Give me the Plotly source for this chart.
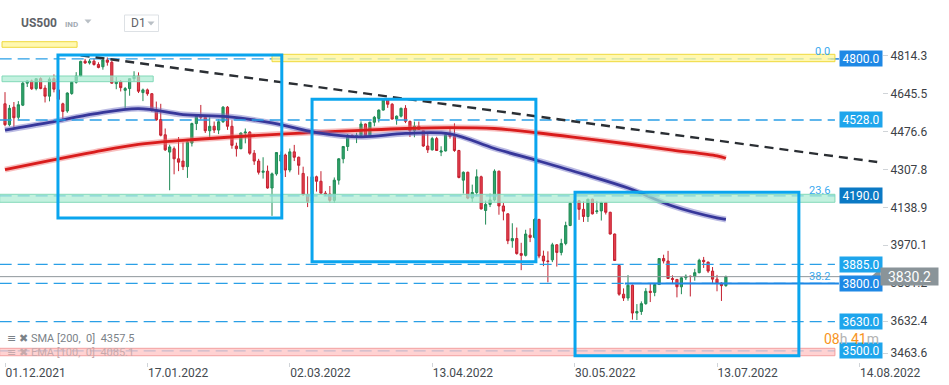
import plotly.graph_objects as go

# ---------------- data ----------------
opens = [4600, 4507, 4585, 4540, 4594, 4692, 4702, 4668, 4712, 4670,
         4634, 4712, 4662, 4600, 4568, 4646, 4696, 4724, 4790, 4782,
         4790, 4775, 4765, 4795, 4785, 4690, 4698, 4660, 4668, 4712,
         4724, 4650, 4662, 4645, 4572, 4530, 4462, 4385, 4400, 4355,
         4345, 4320, 4425, 4512, 4545, 4540, 4480, 4500, 4483, 4520,
         4585, 4500, 4412, 4400, 4470, 4474, 4380, 4345, 4295, 4300,
         4225, 4288, 4345, 4372, 4305, 4386, 4362, 4290, 4195, 4165,
         4275, 4255, 4202, 4198, 4170, 4260, 4355, 4410, 4460, 4452,
         4458, 4510, 4457, 4518, 4535, 4572, 4618, 4598, 4532, 4545,
         4580, 4522, 4480, 4500, 4480, 4412, 4395, 4445, 4385, 4390,
         4462, 4455, 4392, 4260, 4295, 4180, 4205, 4275, 4125, 4152,
         4172, 4300, 4145, 4110, 3990, 4000, 3933, 3925, 4015, 4005,
         4085, 3922, 3900, 3905, 3972, 3938, 3978, 4058, 4160, 4168,
         4130, 4098, 4175, 4120, 4123, 4160, 4117, 4020, 3880, 3752,
         3735, 3792, 3668, 3675, 3710, 3765, 3760, 3795, 3911, 3900,
         3822, 3818, 3785, 3825, 3832, 3831, 3848, 3903, 3895, 3855,
         3819, 3801, 3790]
highs = [4652, 4595, 4608, 4612, 4700, 4705, 4708, 4713, 4718, 4683,
         4718, 4731, 4667, 4605, 4651, 4700, 4741, 4792, 4800, 4799,
         4802, 4785, 4798, 4806, 4792, 4720, 4706, 4675, 4714, 4745,
         4740, 4668, 4668, 4648, 4610, 4600, 4490, 4418, 4410, 4452,
         4428, 4432, 4516, 4550, 4595, 4545, 4540, 4521, 4531, 4590,
         4590, 4527, 4427, 4472, 4490, 4478, 4394, 4355, 4362, 4325,
         4294, 4385, 4388, 4378, 4401, 4417, 4365, 4320, 4277, 4299,
         4280, 4300, 4212, 4234, 4272, 4358, 4412, 4465, 4463, 4471,
         4522, 4512, 4520, 4546, 4575, 4625, 4622, 4603, 4548, 4583,
         4594, 4525, 4521, 4521, 4482, 4471, 4453, 4453, 4411, 4471,
         4489, 4513, 4395, 4299, 4298, 4240, 4308, 4280, 4169, 4200,
         4308, 4302, 4158, 4112, 4068, 4049, 3981, 4039, 4046, 4090,
         4088, 3946, 3943, 3981, 3975, 3999, 4075, 4160, 4178, 4172,
         4166, 4177, 4178, 4168, 4164, 4162, 4119, 4022, 3885, 3778,
         3837, 3795, 3708, 3720, 3779, 3801, 3802, 3913, 3928, 3945,
         3836, 3818, 3829, 3840, 3835, 3865, 3910, 3918, 3897, 3873,
         3838, 3805, 3835]
lows = [4500, 4500, 4495, 4530, 4590, 4675, 4662, 4660, 4665, 4606,
        4611, 4651, 4600, 4531, 4560, 4640, 4690, 4720, 4778, 4775,
        4770, 4758, 4752, 4770, 4690, 4665, 4655, 4575, 4636, 4700,
        4648, 4612, 4636, 4565, 4525, 4455, 4390, 4215, 4286, 4300,
        4305, 4270, 4410, 4483, 4530, 4470, 4450, 4470, 4465, 4515,
        4484, 4400, 4365, 4398, 4424, 4373, 4328, 4285, 4267, 4222,
        4101, 4280, 4290, 4274, 4295, 4345, 4284, 4190, 4140, 4160,
        4209, 4200, 4190, 4161, 4160, 4240, 4335, 4390, 4448, 4425,
        4455, 4455, 4450, 4500, 4517, 4570, 4582, 4530, 4507, 4539,
        4514, 4452, 4451, 4485, 4408, 4381, 4392, 4390, 4367, 4388,
        4445, 4386, 4268, 4200, 4175, 4163, 4188, 4129, 4062, 4140,
        4165, 4106, 4081, 3975, 3959, 3928, 3859, 3920, 3984, 4000,
        3912, 3877, 3805, 3895, 3875, 3925, 3970, 4055, 4152, 4083,
        4074, 4074, 4107, 4110, 4080, 4107, 4018, 3900, 3745, 3722,
        3723, 3639, 3637, 3660, 3705, 3717, 3743, 3795, 3889, 3820,
        3799, 3738, 3752, 3815, 3742, 3812, 3845, 3869, 3847, 3802,
        3765, 3722, 3785]
closes = [4507, 4580, 4538, 4596, 4692, 4702, 4667, 4712, 4668, 4634,
          4710, 4665, 4620, 4566, 4648, 4696, 4724, 4789, 4782, 4790,
          4775, 4762, 4795, 4785, 4692, 4698, 4672, 4668, 4712, 4724,
          4656, 4662, 4645, 4570, 4528, 4460, 4395, 4408, 4355, 4340,
          4320, 4430, 4512, 4545, 4540, 4480, 4500, 4483, 4520, 4585,
          4500, 4415, 4400, 4470, 4474, 4380, 4345, 4295, 4300, 4225,
          4288, 4383, 4372, 4305, 4386, 4362, 4326, 4195, 4165, 4275,
          4255, 4202, 4198, 4170, 4260, 4355, 4410, 4460, 4452, 4458,
          4510, 4457, 4518, 4540, 4572, 4618, 4598, 4532, 4545, 4580,
          4522, 4480, 4500, 4486, 4412, 4395, 4445, 4392, 4390, 4462,
          4455, 4392, 4272, 4295, 4180, 4205, 4275, 4132, 4152, 4172,
          4300, 4145, 4122, 3990, 4000, 3933, 3925, 4020, 4005, 4085,
          3922, 3900, 3898, 3972, 3938, 3978, 4058, 4157, 4168, 4130,
          4098, 4175, 4110, 4123, 4160, 4117, 4020, 3902, 3752, 3735,
          3792, 3668, 3675, 3710, 3765, 3760, 3795, 3911, 3900, 3822,
          3818, 3785, 3825, 3832, 3831, 3848, 3903, 3897, 3855, 3819,
          3801, 3790, 3830.2]

# moving averages read at selected bars
ma_bars = [0, 10, 20, 30, 40, 50, 60, 70, 80, 90, 100, 110, 120, 130, 140, 150, 160, 162]
sma200 = [4307, 4347, 4385, 4419, 4437, 4451, 4463, 4473, 4482, 4490,
          4494, 4490, 4470, 4446, 4421, 4394, 4368, 4357.5]
ema100 = [4483, 4517, 4555, 4579, 4552, 4543, 4515, 4472, 4453, 4468,
          4466, 4401, 4345, 4287, 4225, 4145, 4092, 4085.1]

# x-axis labels (every 32 bars)
tick_bars = [0, 32, 64, 96, 128, 160, 192]
tick_labels = ["01.12.2021", "17.01.2022", "02.03.2022", "13.04.2022",
               "30.05.2022", "13.07.2022", "14.08.2022"]

# price scale labels
price_ticks = [4814.3, 4645.5, 4476.6, 4307.8, 4138.9, 3970.1, 3801.2, 3632.4, 3463.6]

# horizontal levels with their price boxes
levels = [4800.0, 4528.0, 4190.0, 3885.0, 3800.0, 3630.0, 3500.0]
level_box_colors = ["#1e88e5", "#1ea5ec", "#0b79c4", "#1ea5ec", "#1e88e5", "#1ea5ec", "#1ea5ec"]
last_price = 3830.2

# fibonacci labels
fib_labels = ["0.0", "23.6", "38.2"]
fib_prices = [4800.0, 4190.0, 3812.6]

# drawn zones (bar from, bar to, price low, price high, kind)
zones = [(-0.67, 16.2, 4851.7, 4876.7, "yellow"),
         (60.0, 186.5, 4787.6, 4820.5, "yellow"),
         (-0.67, 33.3, 4698.5, 4723.9, "green"),
         (-1.2, 186.5, 4161.4, 4197.0, "green"),
         (-1.2, 186.5, 3478.0, 3511.0, "pink")]
# blue rectangles (bar from, bar to, price low, price high)
boxes = [(11.9, 62.2, 4091.3, 4817.4),
         (69.0, 119.3, 3896.8, 4620.1),
         (128.1, 178.4, 3478.1, 4205.9)]
# trend line (bar, price) endpoints
trend = [(17, 4816.0), (196, 4340.9)]
# ray on 3800 from bar
ray_3800_start = 139.3

# ---------------- figure ----------------
W, H = 949, 385
PLOT_H = 362
def px(x):
    return x / W
def py(y):
    return 1 - y / PLOT_H

x = list(range(len(closes)))
fig = go.Figure()

fig.add_trace(go.Candlestick(
    x=x, open=opens, high=highs, low=lows, close=closes,
    increasing=dict(line=dict(color="#1f8a55", width=1), fillcolor="#2fa56b"),
    decreasing=dict(line=dict(color="#c4202f", width=1), fillcolor="#e5404f"),
    whiskerwidth=0, hoverinfo="skip", showlegend=False))

# MAs with halo
for vals, main, halo in [(sma200, "#d91c1c", "rgba(240,110,110,0.45)"),
                         (ema100, "#37379a", "rgba(120,120,200,0.5)")]:
    fig.add_trace(go.Scatter(x=ma_bars, y=vals, mode="lines",
                             line=dict(color=halo, width=6, shape="spline"),
                             hoverinfo="skip", showlegend=False))
    fig.add_trace(go.Scatter(x=ma_bars, y=vals, mode="lines",
                             line=dict(color=main, width=2.8, shape="spline"),
                             hoverinfo="skip", showlegend=False))

shapes = []
X_LEFT, X_END = -1.2, 186.5

# level lines
for p in levels:
    shapes.append(dict(type="line", xref="x", yref="y", x0=X_LEFT, x1=X_END, y0=p, y1=p,
                       line=dict(color="#2a9fe6", width=1.3, dash="12px,6px"), layer="above"))
shapes.append(dict(type="line", xref="x", yref="y", x0=ray_3800_start, x1=187.4, y0=3800, y1=3800,
                   line=dict(color="#1e88e5", width=2), layer="above"))
shapes.append(dict(type="line", xref="x", yref="y", x0=185.5, x1=187.4, y0=4800, y1=4800,
                   line=dict(color="#1e88e5", width=1.5), layer="above"))

# zones
zone_style = {"yellow": ("rgba(255,246,150,0.75)", "#efd93c"),
              "green": ("rgba(170,235,210,0.7)", "#82d9b8"),
              "pink": ("rgba(255,195,195,0.75)", "#f3a0a0")}
for x0, x1, y0, y1, kind in zones:
    fill, edge = zone_style[kind]
    shapes.append(dict(type="rect", xref="x", yref="y", x0=x0, x1=x1, y0=y0, y1=y1,
                       fillcolor=fill, line=dict(color=edge, width=1), layer="above"))

# current price line
shapes.append(dict(type="line", xref="x", yref="y", x0=X_LEFT, x1=194.6, y0=last_price, y1=last_price,
                   line=dict(color="#8e979b", width=1), layer="above"))

# trend line
shapes.append(dict(type="line", xref="x", yref="y", x0=trend[0][0], y0=trend[0][1],
                   x1=trend[1][0], y1=trend[1][1],
                   line=dict(color="#2b2f34", width=2.4, dash="9px,6px"), layer="above"))

# blue boxes
for x0, x1, y0, y1 in boxes:
    shapes.append(dict(type="rect", xref="x", yref="y", x0=x0, x1=x1, y0=y0, y1=y1,
                       line=dict(color="#0aa5ee", width=3), fillcolor="rgba(0,0,0,0)", layer="above"))

# current-price arrow
unit = 4.454
shapes.append(dict(type="path", xref="paper", yref="y",
                   path=f"M {px(871)},{last_price} L {px(880.5)},{last_price + 8.5*unit} "
                        f"L {px(880.5)},{last_price - 8.5*unit} Z",
                   fillcolor="#8a9499", line=dict(width=0), layer="above"))

# header chrome
shapes.append(dict(type="path", xref="paper", yref="paper",
                   path=f"M {px(84.5)},{py(19.5)} L {px(91.5)},{py(19.5)} L {px(88)},{py(23.5)} Z",
                   fillcolor="#b9bfc5", line=dict(width=0)))
shapes.append(dict(type="rect", xref="paper", yref="paper", x0=px(124.5), x1=px(158.5),
                   y0=py(31.5), y1=py(15), line=dict(color="#dde1e5", width=1), fillcolor="white"))
shapes.append(dict(type="path", xref="paper", yref="paper",
                   path=f"M {px(147.5)},{py(21.5)} L {px(154.5)},{py(21.5)} L {px(151)},{py(25.5)} Z",
                   fillcolor="#b9bfc5", line=dict(width=0)))

ann = []
# level price boxes
for p, c in zip(levels, level_box_colors):
    ann.append(dict(xref="paper", yref="y", x=px(839), y=p, xanchor="left", yanchor="middle",
                    text=f"{p:.1f}", showarrow=False, bgcolor=c, width=40, height=13, borderpad=1,
                    font=dict(family="Roboto", size=12, color="white")))
# current price box
ann.append(dict(xref="paper", yref="y", x=px(880), y=last_price, xanchor="left", yanchor="middle",
                text=f"{last_price:.1f}", showarrow=False, bgcolor="#8a9499", width=55, height=15,
                borderpad=1, font=dict(family="Roboto", size=14, color="white")))
# fib labels
for t, p, dy in zip(fib_labels, fib_prices, [-1, -3, -4]):
    ann.append(dict(xref="paper", yref="y", x=px(832), y=p, xanchor="right", yanchor="bottom",
                    yshift=dy, text=t, showarrow=False,
                    font=dict(family="Roboto", size=11, color="#3aa9ee")))
# timer
ann.append(dict(xref="paper", yref="paper", x=px(851), y=py(339), xanchor="center", yanchor="middle",
                showarrow=False, font=dict(family="Roboto", size=14),
                text="<span style='color:#f7941d'>08</span><span style='color:#b3b3b3'>h</span> "
                     "<span style='color:#f7941d'>41</span><span style='color:#b3b3b3'>m</span>"))
# header
ann.append(dict(xref="paper", yref="paper", x=px(19), y=py(23), xanchor="left", yanchor="middle",
                showarrow=False, text="<b>US500</b>", font=dict(family="Roboto", size=12, color="#5f6368")))
ann.append(dict(xref="paper", yref="paper", x=px(63), y=py(24), xanchor="left", yanchor="middle",
                showarrow=False, text="<b>IND</b>", font=dict(family="Roboto", size=8, color="#a3abb3")))
ann.append(dict(xref="paper", yref="paper", x=px(129), y=py(23.5), xanchor="left", yanchor="middle",
                showarrow=False, text="D1", font=dict(family="Roboto", size=12, color="#5f6368")))
# indicator legend
ann.append(dict(xref="paper", yref="paper", x=px(5), y=py(338), xanchor="left", yanchor="middle",
                showarrow=False, text=f"≡ ✖ SMA [200,  0]  {sma200[-1]:.1f}",
                font=dict(family="Roboto, DejaVu Sans", size=11, color="#7b8288")))
ann.append(dict(xref="paper", yref="paper", x=px(5), y=py(352.5), xanchor="left", yanchor="middle",
                showarrow=False, text=f"≡ ✖ EMA [100,  0]  {ema100[-1]:.1f}",
                font=dict(family="Roboto, DejaVu Sans", size=11, color="#c7a9ab")))

ytick_pos = [max(v, 3490.0) for v in price_ticks]

fig.update_layout(
    width=W, height=H, margin=dict(l=0, r=0, t=0, b=H - PLOT_H),
    paper_bgcolor="white", plot_bgcolor="white",
    shapes=shapes, annotations=ann, showlegend=False,
    xaxis=dict(range=[-5 / 4.45, (W - 5) / 4.45], rangeslider=dict(visible=False),
               showgrid=False, zeroline=False, showline=False,
               tickmode="array", tickvals=tick_bars, ticktext=tick_labels,
               ticks="outside", ticklen=4, tickcolor="#d0d4d8",
               ticklabelposition="outside right",
               tickfont=dict(family="Roboto", size=12, color="#444a50")),
    yaxis=dict(range=[4814.3 - (PLOT_H - 55.7) * unit, 4814.3 + 55.7 * unit],
               showgrid=False, zeroline=False, showline=False,
               side="right", anchor="free", position=px(882),
               tickmode="array", tickvals=ytick_pos, ticktext=[f"{v:.1f}" for v in price_ticks],
               ticks="outside", ticklen=5, tickcolor="#d0d4d8",
               tickfont=dict(family="Roboto", size=12, color="#3c4146")),
)

fig.write_html("out.html", config={"displayModeBar": False},
               post_script="document.body.style.margin='0';document.body.style.overflow='hidden';")
